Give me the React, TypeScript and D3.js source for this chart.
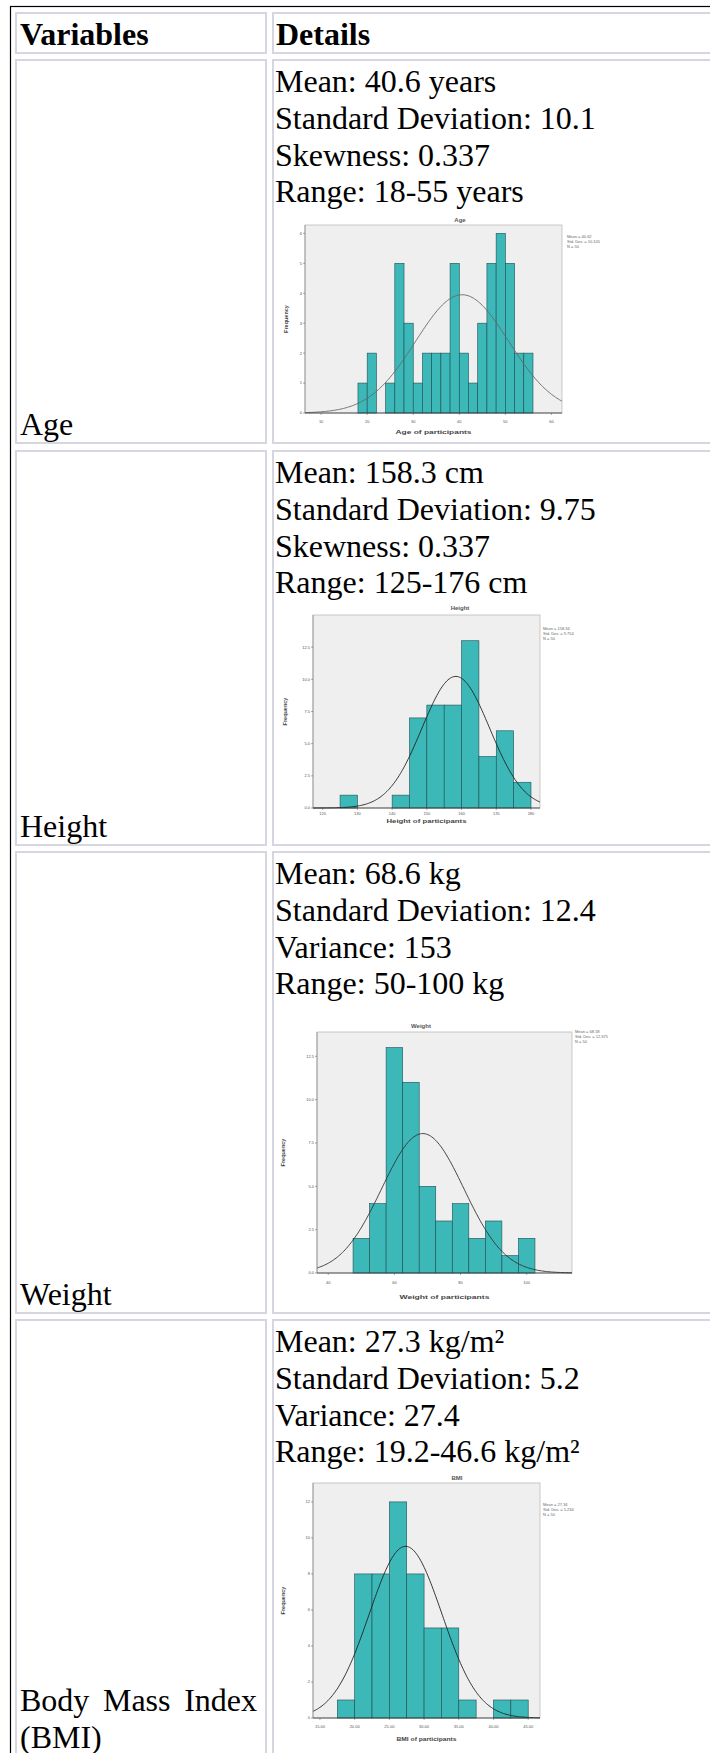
import React, { useEffect, useRef } from "react";
import * as d3 from "d3";

// table text
const headers = ["Variables", "Details"];
const ageDetails = ["Mean: 40.6 years", "Standard Deviation: 10.1", "Skewness: 0.337", "Range: 18-55 years"];
const heightDetails = ["Mean: 158.3 cm", "Standard Deviation: 9.75", "Skewness: 0.337", "Range: 125-176 cm"];
const weightDetails = ["Mean: 68.6 kg", "Standard Deviation: 12.4", "Variance: 153", "Range: 50-100 kg"];
const bmiDetails = ["Mean: 27.3 kg/m²", "Standard Deviation: 5.2", "Variance: 27.4", "Range: 19.2-46.6 kg/m²"];

// histogram counts (N = 50 each)
const ageCounts = [1, 2, 0, 1, 5, 3, 1, 2, 2, 2, 5, 2, 1, 3, 5, 6, 5, 2, 2];
const heightCounts = [1, 0, 0, 1, 7, 8, 8, 13, 4, 6, 2];
const weightCounts = [2, 4, 13, 11, 5, 3, 4, 2, 3, 1, 2];
const bmiCounts = [1, 8, 8, 12, 8, 5, 5, 1, 0, 1, 1];

// [first bin start, bin width]
const ageBins = [18, 2];
const heightBins = [125, 5];
const weightBins = [47.5, 5];
const bmiBins = [17.5, 2.5];

// [mean, std dev, N] for the fitted normal curve
const ageStats = [40.62, 10.1, 50];
const heightStats = [158.34, 9.75, 50];
const weightStats = [68.58, 12.4, 50];
const bmiStats = [27.34, 5.23, 50];

const ageXTicks = [10, 20, 30, 40, 50, 60];
const ageYTicks = [0, 1, 2, 3, 4, 5, 6];
const heightXTicks = [120, 130, 140, 150, 160, 170, 180];
const heightYTicks = [0, 2.5, 5, 7.5, 10, 12.5];
const weightXTicks = [40, 60, 80, 100];
const weightYTicks = [0, 2.5, 5, 7.5, 10, 12.5];
const bmiXTicks = [15, 20, 25, 30, 35, 40, 45];
const bmiYTicks = [0, 2, 4, 6, 8, 10, 12];

const ageLegend = ["Mean = 40.62", "Std. Dev. = 10.105", "N = 50"];
const heightLegend = ["Mean = 158.34", "Std. Dev. = 9.754", "N = 50"];
const weightLegend = ["Mean = 68.58", "Std. Dev. = 12.375", "N = 50"];
const bmiLegend = ["Mean = 27.34", "Std. Dev. = 5.234", "N = 50"];

const TEAL = "#3cb8b8";

const charts = [
  {
    title: "Age", xTitle: "Age of participants", counts: ageCounts, bins: ageBins, stats: ageStats,
    xTicks: ageXTicks, yTicks: ageYTicks, xFmt: d3.format("d"), yFmt: d3.format("d"), legend: ageLegend,
    frame: [305, 562, 225, 413], xDomain: [6.5, 62.3], yMax: 6.28, curve: "#666",
    titleX: 460, titleY: 222, xTickY: 423, xTitleY: 434, xTitleLen: 76, freqX: 288, legendX: 567, legendY: 238,
  },
  {
    title: "Height", xTitle: "Height of participants", counts: heightCounts, bins: heightBins, stats: heightStats,
    xTicks: heightXTicks, yTicks: heightYTicks, xFmt: d3.format("d"), yFmt: d3.format(".1f"), legend: heightLegend,
    frame: [313, 540, 615, 808], xDomain: [117.2, 182.6], yMax: 15, curve: "#222",
    titleX: 460, titleY: 610, xTickY: 815, xTitleY: 823, xTitleLen: 80, freqX: 287, legendX: 543, legendY: 630,
  },
  {
    title: "Weight", xTitle: "Weight of participants", counts: weightCounts, bins: weightBins, stats: weightStats,
    xTicks: weightXTicks, yTicks: weightYTicks, xFmt: d3.format("d"), yFmt: d3.format(".1f"), legend: weightLegend,
    frame: [317, 572, 1032, 1273], xDomain: [36.6, 113.7], yMax: 13.9, curve: "#333",
    titleX: 421, titleY: 1028, xTickY: 1284, xTitleY: 1299, xTitleLen: 90, freqX: 285, legendX: 575, legendY: 1033,
  },
  {
    title: "BMI", xTitle: "BMI of participants", counts: bmiCounts, bins: bmiBins, stats: bmiStats,
    xTicks: bmiXTicks, yTicks: bmiYTicks, xFmt: d3.format(".2f"), yFmt: d3.format("d"), legend: bmiLegend,
    frame: [313, 540, 1483, 1718], xDomain: [14, 46.7], yMax: 13.05, curve: "#222",
    titleX: 457, titleY: 1480, xTickY: 1728, xTitleY: 1741, xTitleLen: 60, freqX: 285, legendX: 543, legendY: 1506,
  },
];

const rows = [
  { label: ["Age"], details: ageDetails, top: 59, bottom: 444 },
  { label: ["Height"], details: heightDetails, top: 450, bottom: 846 },
  { label: ["Weight"], details: weightDetails, top: 851, bottom: 1314 },
  { label: ["Body Mass Index", "(BMI)"], details: bmiDetails, top: 1319, bottom: 1757 },
];

function drawHistogram(svg: any, c: any) {
  const [fx0, fx1, fy0, fy1] = c.frame;
  const x = d3.scaleLinear().domain(c.xDomain).range([fx0, fx1]);
  const y = d3.scaleLinear().domain([0, c.yMax]).range([fy1, fy0]);
  const [start, bw] = c.bins;
  const [mean, sd, n] = c.stats;

  const g = svg.append("g").attr("font-family", "'Liberation Sans', Arial, sans-serif").attr("fill", "#555");

  g.append("text").attr("x", c.titleX).attr("y", c.titleY)
    .attr("text-anchor", "middle").attr("font-size", 6).attr("font-weight", "bold").text(c.title);

  g.append("rect").attr("x", fx0).attr("y", fy0).attr("width", fx1 - fx0).attr("height", fy1 - fy0)
    .attr("fill", "#efefef").attr("stroke", "#b4b4b4").attr("stroke-width", 0.7);

  g.append("g").selectAll("rect")
    .data(c.counts.map((v: number, i: number) => ({ v, i })).filter((d: any) => d.v > 0))
    .join("rect")
    .attr("x", (d: any) => x(start + d.i * bw))
    .attr("width", (d: any) => x(start + (d.i + 1) * bw) - x(start + d.i * bw))
    .attr("y", (d: any) => y(d.v))
    .attr("height", (d: any) => y(0) - y(d.v))
    .attr("fill", TEAL)
    .attr("stroke", "#1f4f50")
    .attr("stroke-width", 0.6);

  // fitted normal curve
  const step = (c.xDomain[1] - c.xDomain[0]) / 200;
  const xs = d3.range(c.xDomain[0], c.xDomain[1] + step / 2, step);
  const dens = (v: number) => (n * bw * Math.exp(-0.5 * ((v - mean) / sd) ** 2)) / (sd * Math.sqrt(2 * Math.PI));
  const line = d3.line<number>().x((v) => x(v)).y((v) => y(dens(v))).curve(d3.curveBasis);
  g.append("path").attr("d", line(xs)).attr("fill", "none").attr("stroke", c.curve).attr("stroke-width", 0.9);

  // axes
  g.append("line").attr("x1", fx0).attr("x2", fx1).attr("y1", fy1).attr("y2", fy1)
    .attr("stroke", "#333").attr("stroke-width", 0.8);
  g.append("line").attr("x1", fx0).attr("x2", fx0).attr("y1", fy0).attr("y2", fy1)
    .attr("stroke", "#777").attr("stroke-width", 0.6);

  const xt = g.append("g").selectAll("g").data(c.xTicks).join("g");
  xt.append("line").attr("x1", (d: number) => x(d)).attr("x2", (d: number) => x(d))
    .attr("y1", fy1).attr("y2", fy1 + 2).attr("stroke", "#555").attr("stroke-width", 0.5);
  xt.append("text").attr("x", (d: number) => x(d)).attr("y", c.xTickY)
    .attr("text-anchor", "middle").attr("font-size", 4).text((d: number) => c.xFmt(d));

  const yt = g.append("g").selectAll("g").data(c.yTicks).join("g");
  yt.append("line").attr("x1", fx0 - 2).attr("x2", fx0).attr("y1", (d: number) => y(d)).attr("y2", (d: number) => y(d))
    .attr("stroke", "#555").attr("stroke-width", 0.5);
  yt.append("text").attr("x", fx0 - 3).attr("y", (d: number) => y(d) + 1.4)
    .attr("text-anchor", "end").attr("font-size", 4).text((d: number) => c.yFmt(d));

  g.append("text").attr("transform", `translate(${c.freqX},${(fy0 + fy1) / 2}) rotate(-90)`)
    .attr("text-anchor", "middle").attr("font-size", 5.5).attr("font-weight", "bold").attr("fill", "#444")
    .text("Frequency");

  g.append("text").attr("x", (fx0 + fx1) / 2).attr("y", c.xTitleY)
    .attr("text-anchor", "middle").attr("font-size", 6).attr("font-weight", "bold").attr("fill", "#444")
    .attr("textLength", c.xTitleLen).attr("lengthAdjust", "spacingAndGlyphs")
    .text(c.xTitle);

  g.append("g").selectAll("text").data(c.legend).join("text")
    .attr("x", c.legendX).attr("y", (_: any, i: number) => c.legendY + i * 5)
    .attr("font-size", 4).attr("fill", "#666").text((d: string) => d);
}

export default function App() {
  const ref = useRef<SVGSVGElement | null>(null);

  useEffect(() => {
    const svg = d3.select(ref.current);
    svg.selectAll("*").remove();

    // outer table border
    svg.append("rect").attr("x", 10.5).attr("y", 6.5).attr("width", 800).attr("height", 1800)
      .attr("fill", "none").attr("stroke", "#000").attr("stroke-width", 1.2);

    const cellStroke = "#d6d6e2";
    const cols = [[16, 250], [273, 500]];
    const cell = (x: number, yTop: number, w: number, yBot: number) =>
      svg.append("rect").attr("x", x).attr("y", yTop + 1).attr("width", w).attr("height", yBot - yTop - 2)
        .attr("fill", "none").attr("stroke", cellStroke).attr("stroke-width", 2);

    const serif = "'Liberation Serif', 'Times New Roman', serif";

    // header row
    cols.forEach(([cx, w], i) => {
      cell(cx, 12, w, 54);
      svg.append("text").attr("x", i === 0 ? 20 : 276).attr("y", 45)
        .attr("font-family", serif).attr("font-size", 32).attr("font-weight", "bold").text(headers[i]);
    });

    rows.forEach((r, ri) => {
      cols.forEach(([cx, w]) => cell(cx, r.top, w, r.bottom));

      r.details.forEach((t, i) => {
        svg.append("text").attr("x", 275).attr("y", r.top + 33 + i * 36.8)
          .attr("font-family", serif).attr("font-size", 32).text(t);
      });

      if (r.label.length === 1) {
        svg.append("text").attr("x", 20).attr("y", r.bottom - 9)
          .attr("font-family", serif).attr("font-size", 32).text(r.label[0]);
      } else {
        // first line is justified across the cell (20 .. 257)
        const lineY = r.bottom - 9 - 36.8;
        const words = r.label[0].split(" ");
        const nodes = words.map((wd) =>
          svg.append("text").attr("y", lineY).attr("font-family", serif).attr("font-size", 32).text(wd)
        );
        const widths = nodes.map((nd) => (nd.node() as SVGTextElement).getComputedTextLength());
        const gap = (237 - d3.sum(widths)) / (words.length - 1);
        let cx = 20;
        nodes.forEach((nd, i) => {
          nd.attr("x", cx);
          cx += widths[i] + gap;
        });
        svg.append("text").attr("x", 20).attr("y", r.bottom - 9)
          .attr("font-family", serif).attr("font-size", 32).text(r.label[1]);
      }

      drawHistogram(svg, charts[ri]);
    });
  }, []);

  return (
    <svg
      ref={ref}
      width={710}
      height={1753}
      style={{ position: "absolute", left: 0, top: 0, background: "#fff", display: "block" }}
    />
  );
}
